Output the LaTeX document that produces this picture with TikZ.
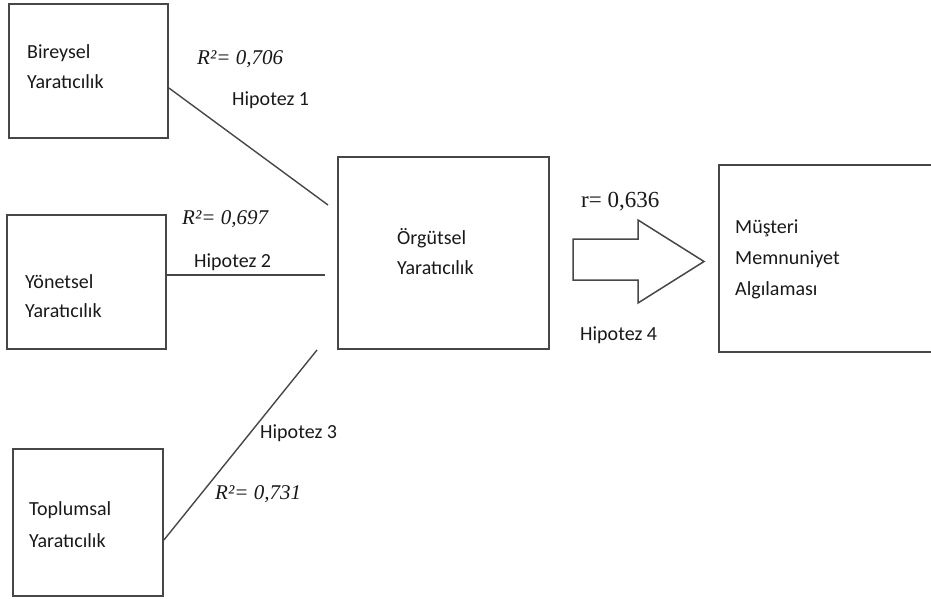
\documentclass[tikz,border=0pt]{standalone}
\usepackage{fontspec}
\setmainfont{Carlito}
\newfontfamily\tnr{Liberation Serif}
\begin{document}
\begin{tikzpicture}[x=1pt,y=-1pt,
  box/.style={draw=black!72, line width=1.8pt, minimum width=#1, inner sep=0pt},
  lbl/.style={anchor=west, inner sep=0pt, text=black!90, font=\fontsize{20}{24}\selectfont},
  rsq/.style={anchor=west, inner sep=0pt, text=black!90, font=\tnr\itshape\fontsize{21}{24}\selectfont},
  conn/.style={draw=black!72, line width=1.4pt}]
\useasboundingbox (0,0) rectangle (931,598);
\clip (0,0) rectangle (931,598);
% boxes
\node[box=159pt, minimum height=134pt] (b1) at (88.5,71) {};
\node[box=159pt, minimum height=134pt] (b2) at (86.5,282) {};
\node[box=150pt, minimum height=147pt] (b3) at (88,522.5) {};
\node[box=211pt, minimum height=192pt] (b4) at (443.5,253) {};
\node[box=216pt, minimum height=187pt] (b5) at (827,258.5) {};
% box texts
\node[lbl] (t1a) at (27,53) {Bireysel};
\node[lbl] (t1b) at (27,82) {Yaratıcılık};
\node[lbl] (t2a) at (25,282) {Yönetsel};
\node[lbl] (t2b) at (25,311) {Yaratıcılık};
\node[lbl] (t3a) at (29,510) {Toplumsal};
\node[lbl] (t3b) at (29,541) {Yaratıcılık};
\node[lbl] (t4a) at (397,238) {Örgütsel};
\node[lbl] (t4b) at (397,268) {Yaratıcılık};
\node[lbl] (t5a) at (735,228) {Müşteri};
\node[lbl] (t5b) at (735,259) {Memnuniyet};
\node[lbl] (t5c) at (735,290) {Algılaması};
% connector free ends
\coordinate (e1) at (328,205);
\coordinate (e2) at (325,275);
\coordinate (e3) at (317,350);
\coordinate (s1) at (b1.east |- 0,88);
\coordinate (s2) at (b2.east |- 0,275);
\coordinate (s3) at (b3.east |- 0,540);
\draw[conn] (s1) -- (e1);
\draw[conn] (s2) -- (e2);
\draw[conn] (s3) -- (e3);
% labels
\node[rsq] (r1) at (197,59) {R²= 0,706};
\node[lbl] (h1) at (232,100) {Hipotez 1};
\node[rsq] (r2) at (182,219) {R²= 0,697};
\node[lbl] (h2) at (194,262) {Hipotez 2};
\node[lbl] (h3) at (260,433) {Hipotez 3};
\node[rsq] (r3) at (215,494) {R²= 0,731};
\node[anchor=west, inner sep=0pt, text=black!90, font=\tnr\fontsize{23}{26}\selectfont] (r4) at (581,202) {r= 0,636};
\node[lbl] (h4) at (580,335) {Hipotez 4};
% block arrow
\draw[draw=black!72, line width=1.5pt, line join=miter]
  (573,239) -- (638,239) -- (638,220) -- (704,261.5) -- (638,303) -- (638,280) -- (573,280) -- cycle;
\end{tikzpicture}
\end{document}
